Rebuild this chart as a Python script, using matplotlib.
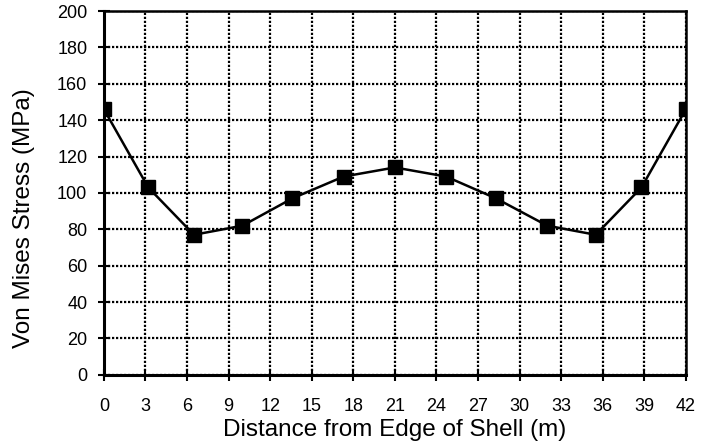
import matplotlib.pyplot as plt

# distance from edge of shell (m) and von Mises stress (MPa)
distance = [0, 3.2, 6.5, 10, 13.6, 17.3, 21, 24.7, 28.3, 32, 35.5, 38.8, 42]
stress = [146, 103, 77, 82, 97, 109, 114, 109, 97, 82, 77, 103, 146]

x_ticks = list(range(0, 43, 3))
y_ticks = list(range(0, 201, 20))

plt.rcParams['font.family'] = ['Liberation Sans', 'DejaVu Sans']

fig = plt.figure(figsize=(7.07, 4.41), dpi=100)
ax = fig.add_axes([0.147, 0.150, 0.823, 0.825])

ax.plot(distance, stress, color='black', linewidth=1.8,
        marker='s', markersize=10, markerfacecolor='black', zorder=3)

ax.set_xlim(0, 42)
ax.set_ylim(0, 200)
ax.set_xticks(x_ticks)
ax.set_yticks(y_ticks)
ax.grid(True, color='black', linestyle=(0, (1, 0.8)), linewidth=1.6)

ax.tick_params(direction='inout', length=8, width=1.5, labelsize=13,
               pad=8)
ax.tick_params(axis='x', pad=12.5)
for side in ['left', 'bottom']:
    ax.spines[side].set_linewidth(2.2)
for side in ['top', 'right']:
    ax.spines[side].set_linewidth(1.8)

ax.set_xlabel('Distance from Edge of Shell (m)', fontsize=17.5, labelpad=3)
ax.set_ylabel('Von Mises Stress (MPa)', fontsize=17.5)
ax.yaxis.set_label_coords(-0.118, 0.431)

fig.savefig('out.png', dpi=100)
